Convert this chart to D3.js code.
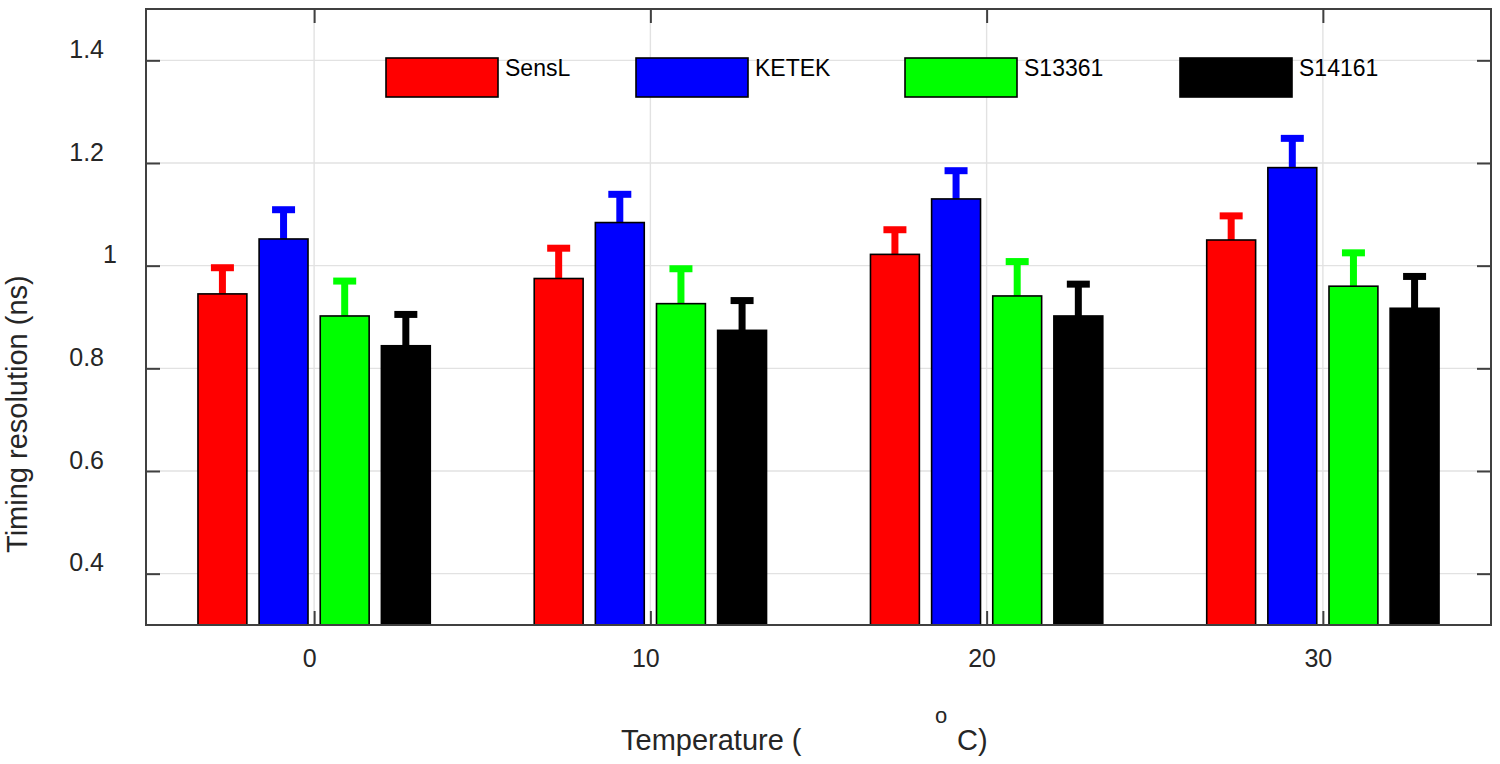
<!DOCTYPE html>
<html>
<head>
<meta charset="utf-8">
<script src="https://cdn.jsdelivr.net/npm/d3@7"></script>
<style>
  html, body { margin: 0; padding: 0; background: #fff; }
  svg { display: block; font-family: "Liberation Sans", Arial, sans-serif; }
</style>
</head>
<body>
<svg id="chart" width="1500" height="764"></svg>
<script>
// ---- data ----
const temperatures = [0, 10, 20, 30];
const seriesNames = ["SensL", "KETEK", "S13361", "S14161"];
const seriesColors = ["#ff0000", "#0000ff", "#00ff00", "#000000"];
const sensL  = [0.945, 0.975, 1.022, 1.050];
const ketek  = [1.052, 1.084, 1.130, 1.191];
const s13361 = [0.902, 0.926, 0.941, 0.960];
const s14161 = [0.844, 0.874, 0.902, 0.917];
const sensLErr  = [0.051, 0.059, 0.048, 0.047];
const ketekErr  = [0.057, 0.055, 0.055, 0.057];
const s13361Err = [0.068, 0.068, 0.067, 0.065];
const s14161Err = [0.061, 0.058, 0.062, 0.062];
const yTicks = [0.4, 0.6, 0.8, 1.0, 1.2, 1.4];
const yTickLabels = ["0.4", "0.6", "0.8", "1", "1.2", "1.4"];
const xTicks = [0, 10, 20, 30];

const values = [sensL, ketek, s13361, s14161];
const errors = [sensLErr, ketekErr, s13361Err, s14161Err];

// ---- layout ----
const L = 146, R = 1491, T = 9, B = 625;
const svg = d3.select("#chart");

const x = d3.scaleLinear().domain([-5, 35]).range([L, R]);
const y = d3.scaleLinear().domain([0.3, 1.5]).range([B, T]);
// inner offsets within a group, in data units (MATLAB grouped bar layout)
const groupHalf = 10 * 4 / (4 + 1.5) / 2;
const inner = d3.scaleBand().domain(d3.range(4)).range([-groupHalf, groupHalf]).paddingInner(0.2).paddingOuter(0.1);

// grid
const grid = svg.append("g").attr("stroke", "#e2e2e2").attr("stroke-width", 1.4);
grid.selectAll("line.gy").data(yTicks).join("line")
  .attr("x1", L).attr("x2", R).attr("y1", d => y(d)).attr("y2", d => y(d));
grid.selectAll("line.gx").data(xTicks).join("line")
  .attr("y1", T).attr("y2", B).attr("x1", d => x(d)).attr("x2", d => x(d));

// bars data
const barData = [];
values.forEach((vals, s) => {
  vals.forEach((v, g) => {
    barData.push({ s, g, v, e: errors[s][g], t: temperatures[g] });
  });
});

const bx0 = d => x(d.t + inner(d.s));
const bw = x(inner.bandwidth()) - x(0);
const bcx = d => x(d.t + inner(d.s) + inner.bandwidth() / 2);

// error bars (upper)
const eb = svg.append("g");
eb.selectAll("line.stem").data(barData).join("line")
  .attr("x1", bcx).attr("x2", bcx)
  .attr("y1", d => y(d.v)).attr("y2", d => y(d.v + d.e))
  .attr("stroke", d => seriesColors[d.s]).attr("stroke-width", 7);
eb.selectAll("line.cap").data(barData).join("line")
  .attr("x1", d => bcx(d) - 8).attr("x2", d => bcx(d) + 8)
  .attr("y1", d => y(d.v + d.e)).attr("y2", d => y(d.v + d.e))
  .attr("stroke", d => seriesColors[d.s]).attr("stroke-width", 7)
  .attr("stroke-linecap", "square");

// bars
svg.append("g").selectAll("rect").data(barData).join("rect")
  .attr("x", bx0).attr("width", bw)
  .attr("y", d => y(d.v)).attr("height", d => B - y(d.v))
  .attr("fill", d => seriesColors[d.s])
  .attr("stroke", "#000").attr("stroke-width", 1.6);

// axes
const tickColor = "#404040";
const yAxis = svg.append("g").attr("transform", `translate(${L},0)`)
  .call(d3.axisLeft(y).tickValues(yTicks).tickSize(-14).tickSizeOuter(0)
    .tickFormat((d, i) => yTickLabels[i]));
yAxis.selectAll("text")
  .attr("x", (d, i) => yTickLabels[i] === "1" ? -29 : -42)
  .attr("y", -3).attr("dy", 0)
  .attr("font-size", 25).attr("fill", "#262626")
  .attr("font-family", "Liberation Sans, Arial, sans-serif");

const xAxis = svg.append("g").attr("transform", `translate(0,${B})`)
  .call(d3.axisBottom(x).tickValues(xTicks).tickSize(-14).tickSizeOuter(0).tickFormat(d3.format("d")));
xAxis.selectAll("text")
  .attr("x", -5).attr("y", 42).attr("dy", 0)
  .attr("font-size", 25).attr("fill", "#262626")
  .attr("font-family", "Liberation Sans, Arial, sans-serif");

svg.append("g").attr("transform", `translate(0,${T})`)
  .call(d3.axisTop(x).tickValues(xTicks).tickSize(-14).tickSizeOuter(0).tickFormat(""));
svg.append("g").attr("transform", `translate(${R},0)`)
  .call(d3.axisRight(y).tickValues(yTicks).tickSize(-14).tickSizeOuter(0).tickFormat(""));

svg.selectAll(".tick line").attr("stroke", tickColor).attr("stroke-width", 2);
svg.selectAll(".domain").remove();

// box
svg.append("rect").attr("x", L).attr("y", T).attr("width", R - L).attr("height", B - T)
  .attr("fill", "none").attr("stroke", tickColor).attr("stroke-width", 2);

// legend
const legendX = [386, 636, 905, 1180];
const lg = svg.append("g");
seriesNames.forEach((name, i) => {
  lg.append("rect").attr("x", legendX[i]).attr("y", 58).attr("width", 112).attr("height", 39)
    .attr("fill", seriesColors[i]).attr("stroke", "#000").attr("stroke-width", 1.6);
  lg.append("text").attr("x", legendX[i] + 119).attr("y", 76)
    .attr("font-size", 23).attr("fill", "#000").text(name);
});

// axis labels
svg.append("text").attr("transform", "translate(27,553) rotate(-90)")
  .attr("font-size", 29).attr("fill", "#262626").text("Timing resolution (ns)");
svg.append("text").attr("x", 621).attr("y", 750)
  .attr("font-size", 29).attr("fill", "#262626").text("Temperature (");
svg.append("text").attr("x", 935).attr("y", 723)
  .attr("font-size", 22).attr("fill", "#262626").text("o");
svg.append("text").attr("x", 957).attr("y", 750)
  .attr("font-size", 29).attr("fill", "#262626").text("C)");
</script>
</body>
</html>
